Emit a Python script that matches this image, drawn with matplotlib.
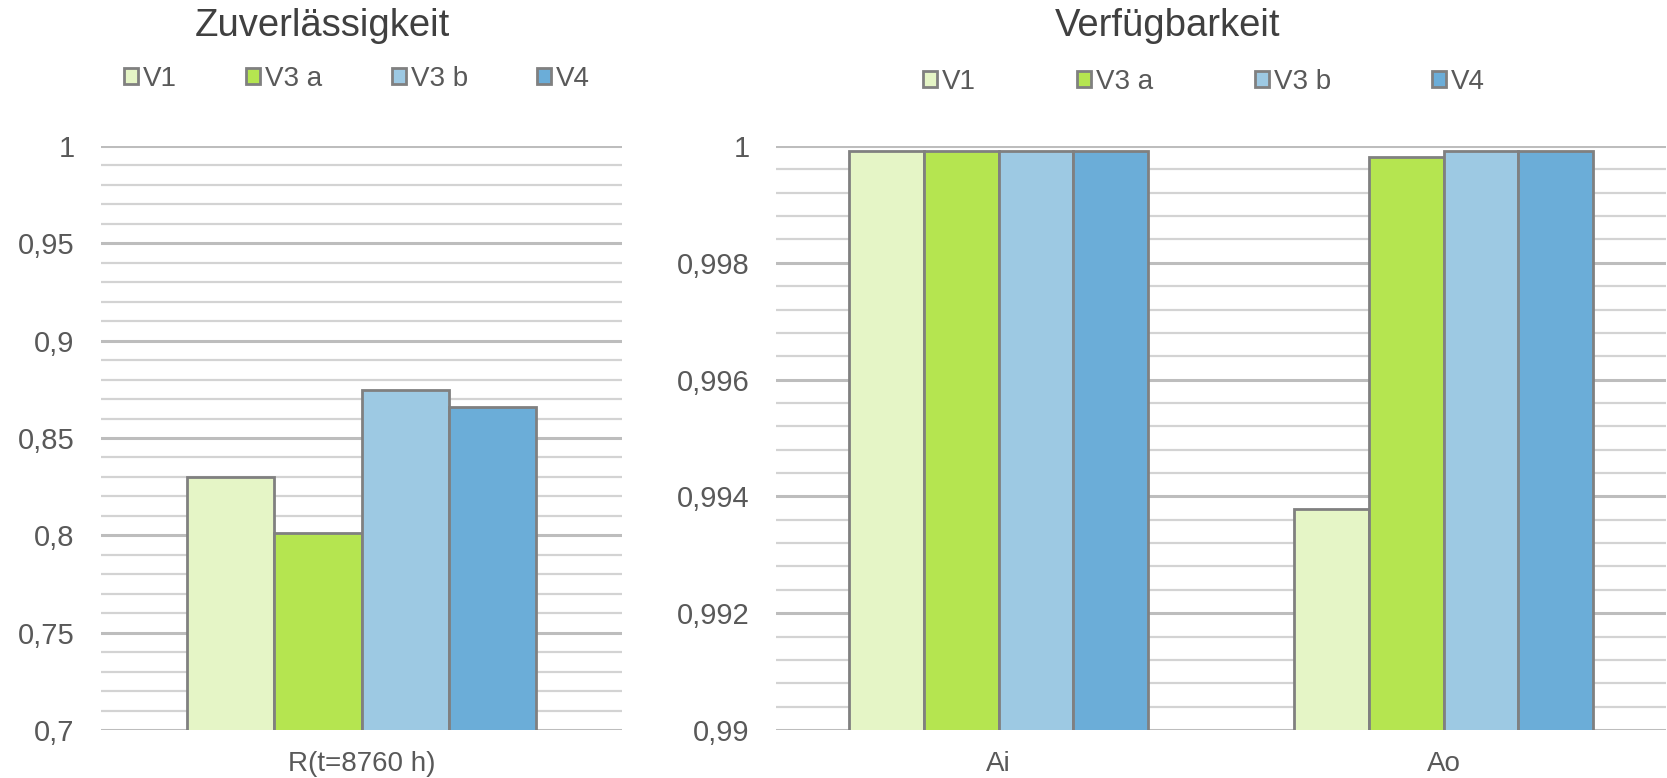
import matplotlib
matplotlib.use("Agg")
import matplotlib.pyplot as plt
import numpy as np
from matplotlib.patches import Patch
from matplotlib.ticker import FixedLocator, FixedFormatter, MultipleLocator

plt.rcParams['font.family'] = ['Liberation Sans', 'DejaVu Sans']

series = ["V1", "V3 a", "V3 b", "V4"]
colors = ["#E5F5C6", "#B5E550", "#9DC9E3", "#6BADD8"]

# Left chart: Zuverlässigkeit
rel_categories = ["R(t=8760 h)"]
rel_values = {"V1": [0.830], "V3 a": [0.801], "V3 b": [0.8745], "V4": [0.866]}
rel_ticks = [0.7, 0.75, 0.8, 0.85, 0.9, 0.95, 1.0]
rel_ticklabels = ["0,7", "0,75", "0,8", "0,85", "0,9", "0,95", "1"]

# Right chart: Verfügbarkeit
av_categories = ["Ai", "Ao"]
av_values = {"V1": [0.99991, 0.99378], "V3 a": [0.99991, 0.99981],
             "V3 b": [0.99991, 0.99991], "V4": [0.99991, 0.99991]}
av_ticks = [0.99, 0.992, 0.994, 0.996, 0.998, 1.0]
av_ticklabels = ["0,99", "0,992", "0,994", "0,996", "0,998", "1"]

W, H = 1667, 778
fig = plt.figure(figsize=(W/100, H/100), dpi=100)
ax1 = fig.add_axes([101/W, 1-730/H, (622-101)/W, (730-146)/H])
ax2 = fig.add_axes([776/W, 1-730/H, (1666-776)/W, (730-146)/H])

edge = "#808080"
label_color = "#595959"


def draw(ax, cats, vals, ticks, ticklabels, ylim, minor):
    n = len(series)
    group = 0.67
    w = group / n
    x = np.arange(len(cats))
    for i, s in enumerate(series):
        ax.bar(x - group/2 + w*(i+0.5), vals[s], width=w, bottom=0,
               color=colors[i], edgecolor=edge, linewidth=2.0, zorder=3)
    ax.set_ylim(*ylim)
    ax.set_xlim(-0.5, len(cats)-0.5)
    ax.set_xticks(x)
    ax.set_xticklabels(cats, fontsize=20)
    ax.yaxis.set_major_locator(FixedLocator(ticks))
    ax.yaxis.set_major_formatter(FixedFormatter(ticklabels))
    ax.yaxis.set_minor_locator(MultipleLocator(minor))
    ax.grid(axis='y', which='minor', color='#D3D3D3', linewidth=1.6, zorder=0)
    ax.grid(axis='y', which='major', color='#BDBDBD', linewidth=2.2, zorder=0)
    ax.set_axisbelow(True)
    for sp in ax.spines.values():
        sp.set_visible(False)
    ax.tick_params(axis='both', which='both', length=0, colors=label_color)
    ax.tick_params(axis='y', pad=19, labelsize=21)
    ax.tick_params(axis='x', pad=15)


draw(ax1, rel_categories, rel_values, rel_ticks, rel_ticklabels, (0.7, 1.0), 0.01)
draw(ax2, av_categories, av_values, av_ticks, av_ticklabels, (0.99, 1.0), 0.0004)

handles = [Patch(facecolor=c, edgecolor=edge, linewidth=2.0) for c in colors]
fig.legend(handles, series, loc='center', bbox_to_anchor=(357/W, 1-79/H),
           ncol=4, frameon=False, fontsize=20, handlelength=0.5, handleheight=0.5,
           handletextpad=0.18, columnspacing=2.5, labelcolor=label_color,
           borderpad=0, borderaxespad=0)
fig.legend(handles, series, loc='center', bbox_to_anchor=(1204/W, 1-82/H),
           ncol=4, frameon=False, fontsize=20, handlelength=0.5, handleheight=0.5,
           handletextpad=0.18, columnspacing=3.65, labelcolor=label_color,
           borderpad=0, borderaxespad=0)

fig.text(322/W, 1-36/H, "Zuverlässigkeit", ha='center', va='baseline',
         fontsize=27.5, color='#404040')
fig.text(1168/W, 1-36/H, "Verfügbarkeit", ha='center', va='baseline',
         fontsize=27.5, color='#404040')

fig.savefig("out.png", dpi=100)
